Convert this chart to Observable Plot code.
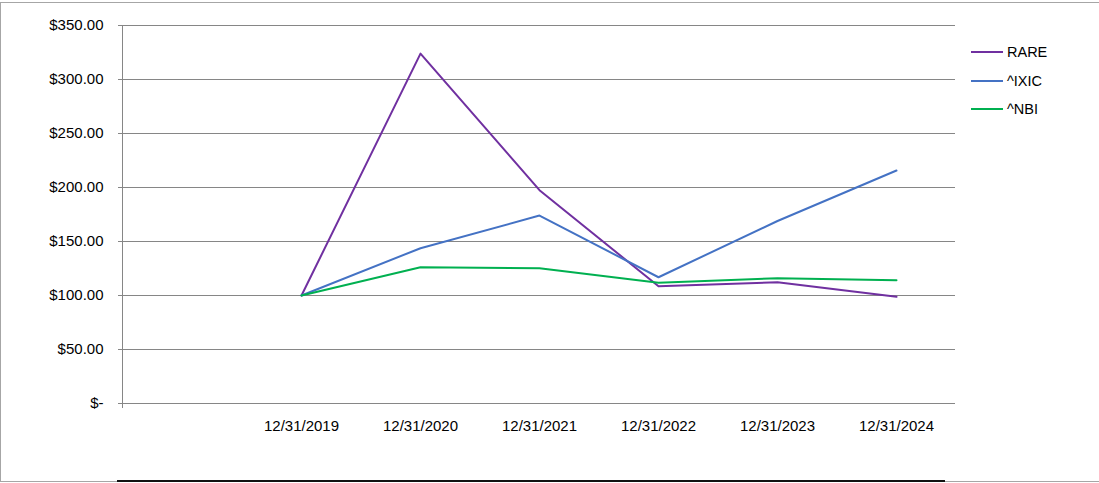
<!DOCTYPE html>
<html>
<head>
<meta charset="utf-8">
<script src="https://cdn.jsdelivr.net/npm/d3@7"></script>
<script src="https://cdn.jsdelivr.net/npm/@observablehq/plot@0.6"></script>
<style>
  html, body { margin: 0; padding: 0; background: #fff; }
  #wrap { position: relative; width: 1099px; height: 483px; overflow: hidden; }
  #frame { position: absolute; left: 0; top: 2px; width: 1110px; height: 480px; border: 1px solid #a6a6a6; box-sizing: border-box; }
  #baseline { position: absolute; left: 117px; top: 480px; width: 828px; height: 2px; background: #111; }
  #chart { position: absolute; left: 0; top: 0; }
  #legend { position: absolute; left: 971px; top: 38px; font-family: "Liberation Sans", Arial, sans-serif; font-size: 14.5px; color: #000; }
  #legend .item { display: flex; align-items: center; height: 28.5px; }
  #legend .sw { width: 32px; height: 2px; margin-right: 4px; }
</style>
</head>
<body>
<div id="wrap">
  <div id="frame"></div>
  <div id="chart"></div>
  <div id="baseline"></div>
  <div id="legend"></div>
</div>
<script>
const categories = ["", "12/31/2019", "12/31/2020", "12/31/2021", "12/31/2022", "12/31/2023", "12/31/2024"];
const dates = ["12/31/2019", "12/31/2020", "12/31/2021", "12/31/2022", "12/31/2023", "12/31/2024"];
const rare = [100, 324, 197.5, 108.5, 112.3, 98.8];
const ixic = [100, 143.8, 174, 116.9, 169, 215.7];
const nbi = [100, 126.2, 125.3, 111.7, 116, 114.2];
const seriesNames = ["RARE", "^IXIC", "^NBI"];
const seriesColors = ["#7030A0", "#4472C4", "#00B050"];
const yTicks = [0, 50, 100, 150, 200, 250, 300, 350];

const values = [rare, ixic, nbi];
const data = [];
seriesNames.forEach((s, i) => dates.forEach((d, j) => data.push({series: s, date: d, value: values[i][j]})));

const fmt = v => v === 0 ? "$-" : "$" + d3.format(".2f")(v);

const chart = Plot.plot({
  width: 1099,
  height: 483,
  marginLeft: 122,
  marginRight: 144,
  marginTop: 25,
  marginBottom: 80,
  style: { fontFamily: "Liberation Sans, Arial, sans-serif", fontSize: "14px", background: "transparent", overflow: "visible" },
  x: { type: "point", domain: categories, padding: 0.5 },
  y: { domain: [0, 350] },
  color: { domain: seriesNames, range: seriesColors },
  marks: [
    Plot.gridY(yTicks, { stroke: "#868686", strokeOpacity: 1, strokeWidth: 1 }),
    Plot.frame({ anchor: "left", stroke: "#868686", strokeWidth: 1, insetBottom: -4 }),
    Plot.axisY(yTicks, { tickSize: 4, tickPadding: 15, tickFormat: fmt, stroke: "#868686", fill: "#000", fontSize: 15, label: null }),
    Plot.axisX(dates, { tickSize: 0, tickPadding: 17, fill: "#000", fontSize: 15, label: null }),
    Plot.line(data, { x: "date", y: "value", z: "series", stroke: "series", strokeWidth: 2 })
  ]
});
document.getElementById("chart").appendChild(chart);

const legend = document.getElementById("legend");
seriesNames.forEach((s, i) => {
  const item = document.createElement("div");
  item.className = "item";
  const sw = document.createElement("span");
  sw.className = "sw";
  sw.style.background = seriesColors[i];
  const t = document.createElement("span");
  t.textContent = s;
  item.appendChild(sw); item.appendChild(t);
  legend.appendChild(item);
});
</script>
</body>
</html>
